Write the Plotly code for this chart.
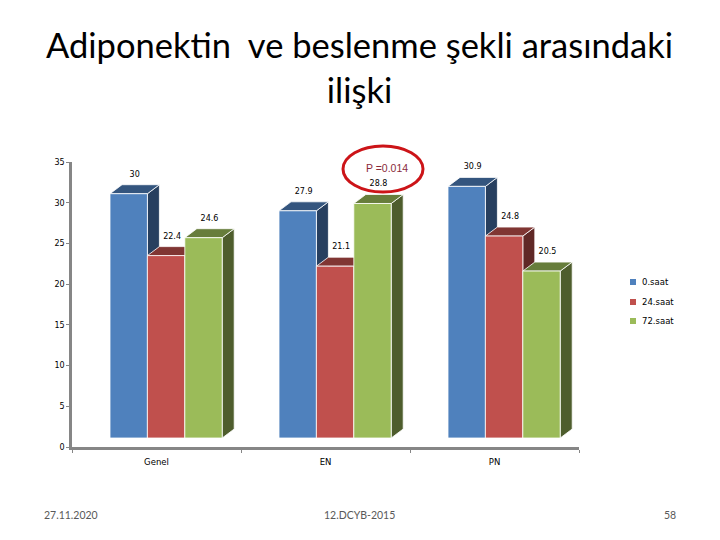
import plotly.graph_objects as go

categories = ["Genel", "EN", "PN"]
series_names = ["0.saat", "24.saat", "72.saat"]
values_0 = [30, 27.9, 30.9]
values_24 = [22.4, 21.1, 24.8]
values_72 = [24.6, 28.8, 20.5]
y_ticks = [0, 5, 10, 15, 20, 25, 30, 35]
title_text = "Adiponektin  ve beslenme şekli arasındaki<br>ilişki"

front = ["#4f81bd", "#c0504d", "#9bbb59"]
side = ["#273f5f", "#602826", "#4e5d2d"]
top = ["#34557e", "#803633", "#677d3b"]

L, R, T, B = 72, 579, 162, 447
fig = go.Figure()
px_x = 3 / (R - L)
px_y = 35 / (B - T)
depth_x, depth_y = 12 * px_x, 9 * px_y
bw = 37.4 * px_x
start = 38 * px_x

all_vals = [values_0, values_24, values_72]
lab_x, lab_y, lab_t = [], [], []


def poly(xs, ys, color, name):
    fig.add_trace(go.Scatter(x=xs, y=ys, mode="lines", fill="toself", fillcolor=color, name=name,
                             line=dict(color="#ffffff", width=0.8), showlegend=False,
                             hoverinfo="skip"))


for s, vals in enumerate(all_vals):
    for c, v in enumerate(vals):
        x0 = c + start + s * bw
        x1 = x0 + bw
        y0 = depth_y
        y1 = v + depth_y
        poly([x1, x1 + depth_x, x1 + depth_x, x1, x1], [y0, y0 + depth_y, y1 + depth_y, y1, y0], side[s], series_names[s])
        poly([x0, x0 + depth_x, x1 + depth_x, x1, x0], [y1, y1 + depth_y, y1 + depth_y, y1, y1], top[s], series_names[s])
        poly([x0, x1, x1, x0, x0], [y0, y0, y1, y1, y0], front[s], series_names[s])
        lab_x.append((x0 + x1) / 2 + depth_x / 2)
        lab_y.append(y1 + 19 * px_y)
        lab_t.append(str(v))

fig.add_trace(go.Scatter(x=lab_x, y=lab_y, text=lab_t, mode="text", showlegend=False,
                         textposition="middle center", cliponaxis=False, hoverinfo="skip",
                         textfont=dict(family="DejaVu Sans", size=8, color="#000000")))


def pxp(x):
    return (x - L) / (R - L)


def pyp(y):
    return (B - y) / (B - T)


foot = dict(family="Lato", size=10.5, color="#595959")
legend_y_px = [282, 302, 321]
legend_shapes = [dict(type="rect", xref="paper", yref="paper", x0=pxp(630), x1=pxp(636),
                      y0=pyp(ly + 3), y1=pyp(ly - 3), fillcolor=front[i], line=dict(width=0))
                 for i, ly in enumerate(legend_y_px)]
legend_notes = [dict(text=series_names[i], xref="paper", yref="paper", x=pxp(640), y=pyp(ly),
                     xanchor="left", yanchor="middle", showarrow=False,
                     font=dict(family="DejaVu Sans", size=8.5, color="#000000"))
                for i, ly in enumerate(legend_y_px)]

fig.update_layout(
    width=720, height=540, autosize=False,
    margin=dict(l=L, r=720 - R, t=T, b=540 - B),
    paper_bgcolor="white", plot_bgcolor="white",
    showlegend=False,
    xaxis=dict(range=[0, 3], tickvals=[0.5, 1.5, 2.5], ticktext=categories, ticks="", showgrid=False,
               zeroline=False, showline=True, linecolor="#868686", linewidth=2.5,
               minor=dict(tickvals=[0, 1, 2, 3], ticks="outside", ticklen=3, tickcolor="#868686", showgrid=False),
               tickfont=dict(family="DejaVu Sans", size=8.5, color="#000000"), ticklabelstandoff=5),
    yaxis=dict(range=[0, 35], tickvals=y_ticks, ticks="outside", ticklen=3, tickcolor="#868686", showgrid=False,
               zeroline=False, showline=True, linecolor="#868686", linewidth=2.5,
               tickfont=dict(family="DejaVu Sans", size=8, color="#000000")),
    title=dict(text=title_text, x=359.5 / 720, xanchor="center", y=1 - 58 / 540, yanchor="middle",
               font=dict(family="Lato", size=34.5, color="#000000")),
    shapes=[dict(type="circle", xref="paper", yref="paper",
                 x0=pxp(343), x1=pxp(423), y0=pyp(192), y1=pyp(146),
                 line=dict(color="#cc1418", width=3))] + legend_shapes,
    annotations=[
        dict(text="P =0.014", xref="paper", yref="paper", x=pxp(387), y=pyp(168),
             xanchor="center", yanchor="middle", showarrow=False,
             font=dict(family="Liberation Sans", size=10.5, color="#8a2a3a")),
        dict(text="27.11.2020", xref="paper", yref="paper", x=pxp(71), y=pyp(515),
             xanchor="center", yanchor="middle", showarrow=False, font=foot),
        dict(text="12.DCYB-2015", xref="paper", yref="paper", x=pxp(359), y=pyp(515),
             xanchor="center", yanchor="middle", showarrow=False, font=foot),
        dict(text="58", xref="paper", yref="paper", x=pxp(670), y=pyp(515),
             xanchor="center", yanchor="middle", showarrow=False, font=foot),
    ] + legend_notes,
)
fig.write_html("out.html", post_script="document.body.style.margin='0';",
               config={"displayModeBar": False})
